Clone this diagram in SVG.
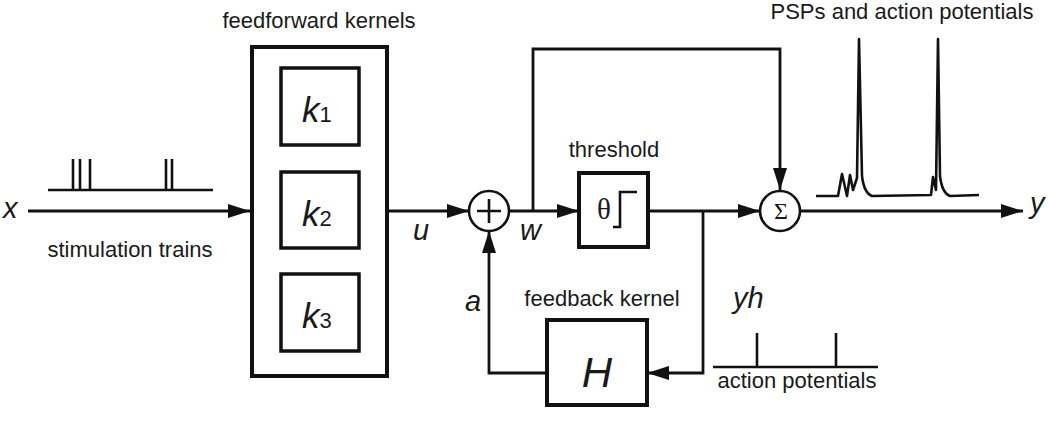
<svg xmlns="http://www.w3.org/2000/svg" width="1050" height="432" viewBox="0 0 1050 432">
<defs>
<marker id="arr" markerUnits="userSpaceOnUse" markerWidth="22" markerHeight="14" refX="22" refY="7" orient="auto">
<path d="M0,0 L22,7 L0,14 z" fill="#111"/>
</marker>
<style>
.lbl{font-family:"Liberation Sans",Arial,sans-serif;font-size:22px;fill:#1a1a1a}
.var{font-family:"Liberation Sans",Arial,sans-serif;font-style:italic;font-size:29px;fill:#1a1a1a}
.kk{font-family:"Liberation Sans",Arial,sans-serif;font-style:italic;font-size:35px;fill:#1a1a1a}
.sub{font-family:"Liberation Sans",Arial,sans-serif;font-style:normal;font-size:22px}
.box{fill:#fff;stroke:#111;stroke-width:4}
.ibox{fill:#fff;stroke:#111;stroke-width:3.5}
.ln{fill:none;stroke:#111;stroke-width:2.6}
.ar{fill:none;stroke:#111;stroke-width:2.8;marker-end:url(#arr)}
.tr{fill:none;stroke:#111;stroke-width:2.6;stroke-linejoin:round}
</style>
</defs>
<rect width="1050" height="432" fill="#fff"/>

<g id="connectors">
<path class="ar" d="M28,211 L250,211"/>
<path class="ar" d="M387,211 L469,211"/>
<path class="ar" d="M509,211 L579,211"/>
<path class="ar" d="M533,211 L533,49 L780,49 L780,190"/>
<path class="ar" d="M648,211 L760,211"/>
<path class="ar" d="M800,211 L1023,211"/>
<path class="ar" d="M703,211 L703,373 L647,373"/>
<path class="ar" d="M546,373 L489,373 L489,231"/>
</g>

<g id="input">
<text class="var" x="3" y="218">x</text>
<path class="tr" d="M48,190 L213,190 M73,190 L73,159 M80,190 L80,159 M90,190 L90,159 M166,190 L166,159 M172,190 L172,159"/>
<text class="lbl" x="130" y="257" text-anchor="middle">stimulation trains</text>
</g>

<g id="feedforward">
<text class="lbl" x="319" y="28" text-anchor="middle">feedforward kernels</text>
<rect class="box" x="252" y="47" width="135" height="329"/>
</g>
<g id="k1">
<rect class="ibox" x="281" y="68" width="78" height="77"/>
<text class="kk" x="302" y="122">k<tspan class="sub">1</tspan></text>
</g>
<g id="k2">
<rect class="ibox" x="281" y="172" width="78" height="76"/>
<text class="kk" x="302" y="226">k<tspan class="sub">2</tspan></text>
</g>
<g id="k3">
<rect class="ibox" x="281" y="274" width="78" height="77"/>
<text class="kk" x="302" y="328">k<tspan class="sub">3</tspan></text>
</g>

<g id="sum">
<circle cx="489" cy="211" r="20" fill="#fff" stroke="#111" stroke-width="2.6"/>
<path class="ln" d="M477,211 L501,211 M489,199 L489,223"/>
<text class="var" x="413" y="240">u</text>
<text class="var" x="520" y="240">w</text>
<text class="var" x="465" y="311">a</text>
</g>

<g id="threshold">
<text class="lbl" x="614" y="157" text-anchor="middle">threshold</text>
<rect class="box" x="579" y="173" width="69" height="74"/>
<text x="604" y="219" text-anchor="middle" style="font-family:'Liberation Serif','Times New Roman',serif;font-size:29px;fill:#1a1a1a">θ</text>
<path class="ln" d="M613,227 L620,227 L620,192 L637,192" stroke-width="2"/>
</g>

<g id="sigma">
<circle cx="780" cy="211" r="20" fill="#fff" stroke="#111" stroke-width="2.6"/>
<text x="781" y="219" text-anchor="middle" style="font-family:'Liberation Serif','Times New Roman',serif;font-size:24px;fill:#1a1a1a">Σ</text>
</g>

<g id="output">
<text class="lbl" x="902" y="19" text-anchor="middle">PSPs and action potentials</text>
<path class="tr" d="M816,196 L838,196 L842,174 L847,196 L850,175 L853,190 L857,178 L859,39 L862,176 Q864,193 872,196 L931,195 L933,177 L936,190 L938,39 L940,176 Q942,193 950,196 L979,195"/>
<text class="var" x="1030" y="213">y</text>
</g>

<g id="feedback">
<text class="lbl" x="602" y="306" text-anchor="middle">feedback kernel</text>
<rect class="box" x="547" y="320" width="100" height="85"/>
<text x="597" y="387" text-anchor="middle" style="font-family:'Liberation Sans',Arial,sans-serif;font-style:italic;font-size:42px;fill:#1a1a1a">H</text>
</g>

<g id="yh">
<text class="var" x="733" y="308">yh</text>
<path class="tr" d="M713,367 L878,367 M757,367 L757,333 M836,367 L836,333"/>
<text class="lbl" x="797" y="388" text-anchor="middle">action potentials</text>
</g>
</svg>
